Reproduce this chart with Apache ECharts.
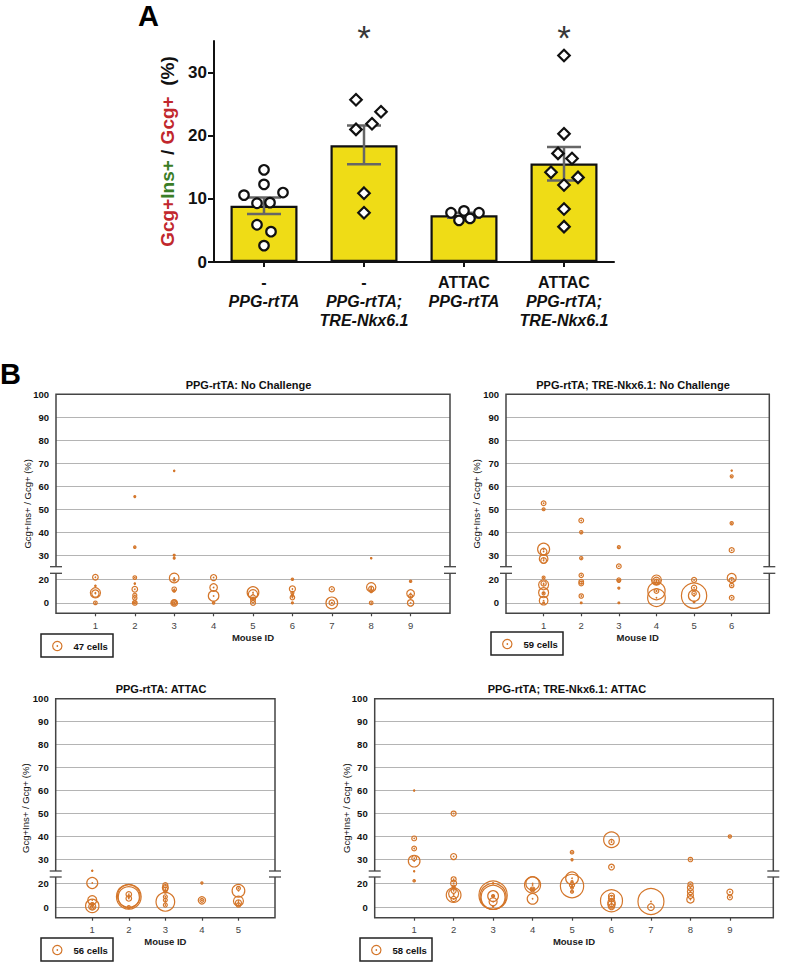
<!DOCTYPE html>
<html><head><meta charset="utf-8">
<script src="https://cdn.jsdelivr.net/npm/echarts@6/dist/echarts.min.js"></script>
<style>html,body{margin:0;padding:0;background:#fff}#c{width:786px;height:966px}</style>
</head><body><div id="c"></div>
<script>
// ================= DATA =================
// ---- Panel A ----
const groupLine1 = ['-', '-', 'ATTAC', 'ATTAC'];
const groupLine2 = ['PPG-rtTA', 'PPG-rtTA;|TRE-Nkx6.1', 'PPG-rtTA', 'PPG-rtTA;|TRE-Nkx6.1'];
const barMeans = [8.9, 18.5, 7.4, 15.6];
const semLow = [7.6, 15.5, 7.0, 12.9];
const semHigh = [10.2, 21.6, 7.8, 18.2];
const yTicksA = [0, 10, 20, 30];
// individual mice: [group position incl. jitter, value %]
const miceGroup1 = [[0,14.6],[0,12.3],[-0.2,10.6],[0.19,11.0],[-0.07,9.3],[0.06,9.4],[-0.07,5.9],[0.07,4.8],[0,2.6]];
const miceGroup2 = [[0.92,25.7],[1.17,23.8],[1.08,21.9],[0.92,21.0],[1,10.9],[1,7.8]];
const miceGroup3 = [[1.87,7.8],[2,8.1],[2.15,7.8],[1.95,6.6],[2.06,6.9]];
const miceGroup4 = [[3,32.7],[3,20.3],[2.94,17.2],[3.08,16.4],[2.87,14.2],[3.14,13.4],[3,12.2],[3,8.4],[3,5.6]];
const significantGroups = [1, 3];

// ---- Panel B ---- [mouse ID, Gcg+Ins+/Gcg+ (%), cells in islet]
const panelTitles = ['PPG-rtTA: No Challenge', 'PPG-rtTA; TRE-Nkx6.1: No Challenge', 'PPG-rtTA: ATTAC', 'PPG-rtTA; TRE-Nkx6.1: ATTAC'];
const legendCells = [47, 59, 56, 58];
const mouseCounts = [9, 6, 5, 9];
const yTicksUpper = [30, 40, 50, 60, 70, 80, 90, 100];
const yTicksLower = [0, 20];
const bubblesPPGNoChallenge = [
  [1,21.7,17],[1,14.4,1],[1,8.5,56],[1,7.9,29],[1,0,7],
  [2,55.5,2],[2,33.5,3],[2,21.4,7],[2,16.3,1],[2,11.5,17],[2,6.5,9],[2,4.2,10],[2,0,12],[2,0.3,5],
  [3,66.7,1],[3,30,2],[3,28.7,2],[3,21.1,51],[3,19.4,3],[3,11.5,11],[3,10,3],[3,0,24],[3,0.3,14],[3,0,8],
  [4,21.4,20],[4,13,31],[4,5.9,60],[4,0,3],
  [5,8.7,74],[5,7.3,47],[5,4.6,13],[5,2.6,13],[5,0,13],
  [6,20,3],[6,11.8,20],[6,8.5,5],[6,6.5,3],[6,4.5,11],[6,0,2],
  [7,11.5,15],[7,0,74],[7,0.2,16],
  [8,28.7,1],[8,13.2,47],[8,12,14],[8,10,5],[8,0,7],
  [9,18.3,3],[9,7.9,32],[9,5.6,9],[9,0,22]
];
const bubblesNkxNoChallenge = [
  [1,52.6,15],[1,50,6],[1,32.6,98],[1,31.6,30],[1,28.4,51],[1,27.7,22],[1,21.4,6],[1,16.4,19],[1,15.3,68],[1,8.6,68],[1,8,6],[1,1.9,51],[1,0,2],
  [2,45.1,15],[2,40,7],[2,28.7,7],[2,23.3,13],[2,17.8,15],[2,16.4,15],[2,5.8,13],[2,0,2],
  [3,33.5,6],[3,25.2,15],[3,19.4,11],[3,18.6,7],[3,12.5,3],[3,0,2],
  [4,19.3,68],[4,18.6,37],[4,18,15],[4,10,204],[4,10,15],[4,4.4,213],
  [5,6.1,437],[5,6.1,87],[5,19.4,17],[5,12.8,19],[5,8,13],[5,0.8,2],
  [6,66.8,1],[6,64.3,6],[6,43.9,7],[6,32.2,17],[6,21.1,55],[6,19.2,17],[6,14.7,13],[6,4.4,15]
];
const bubblesPPGAttac = [
  [1,25.1,1],[1,20,78],[1,5.8,52],[1,1,115],[1,0.5,32],[1,0,10],[1,2.5,6],
  [2,8.6,395],[2,9.2,330],[2,8.2,290],[2,10.6,20],[2,7.2,20],[2,0,6],
  [3,18.3,16],[3,16.1,23],[3,14.7,14],[3,12.8,5],[3,8.6,10],[3,5.8,10],[3,4.4,226],[3,1.7,10],
  [4,20,3],[4,5.6,35],[4,5.6,10],
  [5,13.6,104],[5,15.6,10],[5,5,65],[5,3.6,23],[5,1.7,12]
];
const bubblesNkxAttac = [
  [1,60,1],[1,39.2,15],[1,34.8,15],[1,30.6,15],[1,29.3,91],[1,24.9,1],[1,21.9,4],
  [2,50,17],[2,31.3,24],[2,23.1,17],[2,19.7,24],[2,17,6],[2,16,4],[2,13.6,17],[2,10,145],[2,11,67],[2,6.7,19],
  [3,9.9,537],[3,8.9,453],[3,8.1,386],[3,9.2,77],[3,9.2,6],[3,4.4,43],[3,19.7,1],[3,0.3,1],
  [4,18.3,172],[4,19.7,119],[4,14.7,15],[4,14.7,5],[4,6.9,77],
  [5,33.2,8],[5,29.9,3],[5,17.5,364],[5,23.9,108],[5,21.1,3],[5,18.3,17],[5,16.1,5],[5,12.8,6],
  [6,38.6,165],[6,37.6,19],[6,26.7,22],[6,5.3,325],[6,9.2,24],[6,7.2,24],[6,3.6,36],[6,2.2,36],[6,0.3,24],
  [7,4.7,453],[7,0,30],
  [8,30,13],[8,18.9,17],[8,16.1,24],[8,12.8,24],[8,9.7,24],[8,6.4,36],
  [9,40,7],[9,12.5,24],[9,8.1,17]
];
const allBubbles = [bubblesPPGNoChallenge, bubblesNkxNoChallenge, bubblesPPGAttac, bubblesNkxAttac];

// ================= LAYOUT / STYLE =================
const FONT = '"Liberation Sans", Arial, Helvetica, sans-serif';
const ORANGE = '#d4762a';
const LEGEND_D = 9.3; // px diameter of the legend bubble
const BREAK = 24.8;   // values at/above go to the upper (30-100) segment
const layout = [
  {left:56,   right:450,   top:394.3, bt:566.7, bb:573.3, bottom:613.3, xmax:10,   tx:248.5, ty:385, ytx:27,  lg:[41,634]},
  {left:506,  right:769.3, top:394.3, bt:566.7, bb:573.3, bottom:613.3, xmax:7,    tx:633,   ty:385, ytx:476, lg:[491,632]},
  {left:55.7, right:275,   top:698.7, bt:871,   bb:877,   bottom:917.7, xmax:6,    tx:161,   ty:689, ytx:25,  lg:[41,938]},
  {left:374.7,right:773.3, top:698.7, bt:871,   bb:877,   bottom:917.7, xmax:10.1, tx:567,   ty:689, ytx:346, lg:[360,938]}
];
function bubbleSize(cells, s) { return LEGEND_D * Math.sqrt(cells / legendCells[s]); }

const grids = [{left:214, top:41, width:400, height:221}];
const xAxes = [
  {type:'category', gridIndex:0, position:'bottom', data:groupLine2, boundaryGap:true,
   axisLine:{show:true, onZero:false, lineStyle:{color:'#111', width:2}},
   axisTick:{show:true, alignWithLabel:true, length:5, lineStyle:{color:'#111', width:2}},
   axisLabel:{interval:0, margin:10.5, color:'#111',
     formatter:(v, i) => {
       const lines = ['{a|' + groupLine1[i] + '}'];
       groupLine2[i].split('|').forEach(t => lines.push('{b|' + t + '}'));
       return lines.join('\n');
     },
     rich:{
       a:{fontFamily:FONT, fontWeight:'bold', fontSize:16, lineHeight:19, color:'#111'},
       b:{fontFamily:FONT, fontWeight:'bold', fontStyle:'italic', fontSize:16, lineHeight:19, color:'#111'}
     }}},
  {type:'value', gridIndex:0, position:'top', min:-0.5, max:3.5, show:false}
];
const yAxes = [
  {type:'value', gridIndex:0, position:'left', min:0, max:35,
   axisLine:{show:true, onZero:false, lineStyle:{color:'#111', width:2}},
   axisTick:{show:true, length:6, customValues:yTicksA, lineStyle:{color:'#111', width:2}},
   axisLabel:{customValues:yTicksA, fontFamily:FONT, fontWeight:'bold', fontSize:17, color:'#111', margin:7},
   splitLine:{show:false},
   name:'{r|Gcg+}{g|Ins+}{k| / }{r|Gcg+}{k|  (%)}', nameLocation:'middle', nameRotate:90, nameGap:36,
   nameTextStyle:{fontFamily:FONT, fontWeight:'bold', fontSize:19,
     rich:{
       r:{fontFamily:FONT, fontWeight:'bold', fontSize:19, color:'#c1272d'},
       g:{fontFamily:FONT, fontWeight:'bold', fontSize:19, color:'#3a7d26'},
       k:{fontFamily:FONT, fontWeight:'bold', fontSize:19, color:'#111'}
     }}}
];
const series = [
  {type:'bar', xAxisIndex:0, yAxisIndex:0, data:barMeans, barWidth:67,
   itemStyle:{color:'#efdc16', borderColor:'#111', borderWidth:2.2}, z:2, silent:true},
  {type:'custom', xAxisIndex:0, yAxisIndex:0, z:3, silent:true,
   data: barMeans.map((m, i) => [i, semLow[i], semHigh[i]]),
   renderItem:(p, api) => {
     const lo = api.coord([api.value(0), api.value(1)]);
     const hi = api.coord([api.value(0), api.value(2)]);
     const hw = 17, st = {stroke:'#666', lineWidth:2.5};
     return {type:'group', children:[
       {type:'line', shape:{x1:lo[0], y1:lo[1], x2:hi[0], y2:hi[1]}, style:st},
       {type:'line', shape:{x1:lo[0]-hw, y1:lo[1], x2:lo[0]+hw, y2:lo[1]}, style:st},
       {type:'line', shape:{x1:hi[0]-hw, y1:hi[1], x2:hi[0]+hw, y2:hi[1]}, style:st}
     ]};
   }},
  {type:'scatter', xAxisIndex:1, yAxisIndex:0, data:miceGroup1.concat(miceGroup3), symbol:'circle', symbolSize:9.5,
   itemStyle:{color:'#fff', borderColor:'#111', borderWidth:2.2, opacity:1}, z:5, silent:true},
  {type:'scatter', xAxisIndex:1, yAxisIndex:0, data:miceGroup2.concat(miceGroup4), symbol:'diamond', symbolSize:11.5,
   itemStyle:{color:'#fff', borderColor:'#111', borderWidth:2.2, opacity:1}, z:5, silent:true},
  {type:'scatter', xAxisIndex:1, yAxisIndex:0, data:significantGroups.map(g => [g, 35.5]), symbolSize:0, clip:false, silent:true,
   label:{show:true, position:'inside', formatter:'*', fontFamily:FONT, fontSize:35, color:'#000'}}
];

const graphics = [
  {type:'text', x:138, y:1, z:10, style:{text:'A', font:'bold 29px ' + FONT, fill:'#000', align:'left', verticalAlign:'top', textAlign:'left', textVerticalAlign:'top'}},
  {type:'text', x:0, y:359, z:10, style:{text:'B', font:'bold 29px ' + FONT, fill:'#000', align:'left', verticalAlign:'top', textAlign:'left', textVerticalAlign:'top'}}
];

layout.forEach((g, s) => {
  const gU = grids.length, gL = gU + 1;
  grids.push({left:g.left, top:g.top, width:g.right - g.left, height:g.bt - g.top});
  grids.push({left:g.left, top:g.bb, width:g.right - g.left, height:g.bottom - g.bb});
  const xU = xAxes.length, xL = xU + 1;
  const ticks = Array.from({length: mouseCounts[s]}, (_, k) => k + 1);
  xAxes.push({type:'value', gridIndex:gU, min:0, max:g.xmax, show:false});
  xAxes.push({type:'value', gridIndex:gL, min:0, max:g.xmax,
    axisLine:{show:false, onZero:false}, splitLine:{show:false},
    axisTick:{show:true, length:3, customValues:ticks, lineStyle:{color:'#444', width:1.2}},
    axisLabel:{customValues:ticks, fontFamily:FONT, fontSize:9.5, color:'#444', margin:7},
    name:'Mouse ID', nameLocation:'middle', nameGap:19,
    nameTextStyle:{fontFamily:FONT, fontWeight:'bold', fontSize:9.5, color:'#222'}});
  const yU = yAxes.length, yL = yU + 1;
  yAxes.push({type:'value', gridIndex:gU, min:25, max:100,
    axisLine:{show:false, onZero:false}, axisTick:{show:false, customValues:yTicksUpper},
    axisLabel:{customValues:yTicksUpper, fontFamily:FONT, fontWeight:'bold', fontSize:9.5, color:'#111', margin:7},
    splitLine:{show:true, lineStyle:{color:'#b4b4b4', width:1}}});
  yAxes.push({type:'value', gridIndex:gL, min:-8.8, max:25,
    axisLine:{show:false, onZero:false}, axisTick:{show:false, customValues:yTicksLower},
    axisLabel:{customValues:yTicksLower, fontFamily:FONT, fontWeight:'bold', fontSize:9.5, color:'#111', margin:7},
    splitLine:{show:true, lineStyle:{color:'#b4b4b4', width:1}}});

  const data = allBubbles[s];
  const up = data.filter(b => b[1] >= BREAK), lo = data.filter(b => b[1] < BREAK);
  [[up, xU, yU], [lo, xL, yL]].forEach(([d, xi, yi]) => {
    series.push({type:'scatter', xAxisIndex:xi, yAxisIndex:yi, data:d, clip:false, silent:true, z:3,
      symbol:'circle', symbolSize:v => bubbleSize(v[2], s),
      itemStyle:{color:'rgba(255,255,255,0)', borderColor:ORANGE, borderWidth:1.2, opacity:1}});
    series.push({type:'scatter', xAxisIndex:xi, yAxisIndex:yi, data:d, clip:false, silent:true, z:4,
      symbol:'circle', symbolSize:1.7, itemStyle:{color:ORANGE, opacity:1}});
  });

  // frame with axis break
  const fr = {stroke:'#444', lineWidth:1.5, fill:null};
  graphics.push({type:'polyline', z:6, shape:{points:[[g.left,g.bt],[g.left,g.top],[g.right,g.top],[g.right,g.bt]]}, style:fr});
  graphics.push({type:'polyline', z:6, shape:{points:[[g.left,g.bb],[g.left,g.bottom],[g.right,g.bottom],[g.right,g.bb]]}, style:fr});
  [g.left, g.right].forEach(x => {
    [g.bt, g.bb].forEach(y => {
      graphics.push({type:'line', z:6, shape:{x1:x-6, y1:y, x2:x+6, y2:y}, style:{stroke:'#444', lineWidth:1.3}});
    });
  });
  // title
  graphics.push({type:'text', x:g.tx, y:g.ty, z:10, style:{text:panelTitles[s], font:'bold 11px ' + FONT, fill:'#111',
    align:'center', verticalAlign:'middle', textAlign:'center', textVerticalAlign:'middle'}});
  // y title
  graphics.push({type:'text', x:g.ytx, y:(g.top + g.bottom) / 2, rotation:Math.PI / 2, z:10,
    style:{text:'Gcg+Ins+ / Gcg+ (%)', font:'9.5px ' + FONT, fill:'#111',
    align:'center', verticalAlign:'middle', textAlign:'center', textVerticalAlign:'middle'}});
  // size legend
  const [lx, ly] = g.lg;
  graphics.push({type:'rect', z:6, shape:{x:lx, y:ly, width:72, height:23}, style:{fill:'#fff', stroke:'#222', lineWidth:1.5}});
  graphics.push({type:'circle', z:7, shape:{cx:lx + 16.3, cy:ly + 12, r:bubbleSize(legendCells[s], s) / 2}, style:{fill:null, stroke:ORANGE, lineWidth:1.2}});
  graphics.push({type:'circle', z:7, shape:{cx:lx + 16.3, cy:ly + 12, r:0.85}, style:{fill:ORANGE}});
  graphics.push({type:'text', x:lx + 32.5, y:ly + 12, z:10, style:{text:legendCells[s] + ' cells', font:'bold 9.5px ' + FONT, fill:'#111',
    align:'left', verticalAlign:'middle', textAlign:'left', textVerticalAlign:'middle'}});
});

const chart = echarts.init(document.getElementById('c'), null, {renderer:'svg'});
chart.setOption({
  backgroundColor:'#fff', animation:false, textStyle:{fontFamily:FONT},
  grid:grids, xAxis:xAxes, yAxis:yAxes, series:series, graphic:graphics
});
</script></body></html>
